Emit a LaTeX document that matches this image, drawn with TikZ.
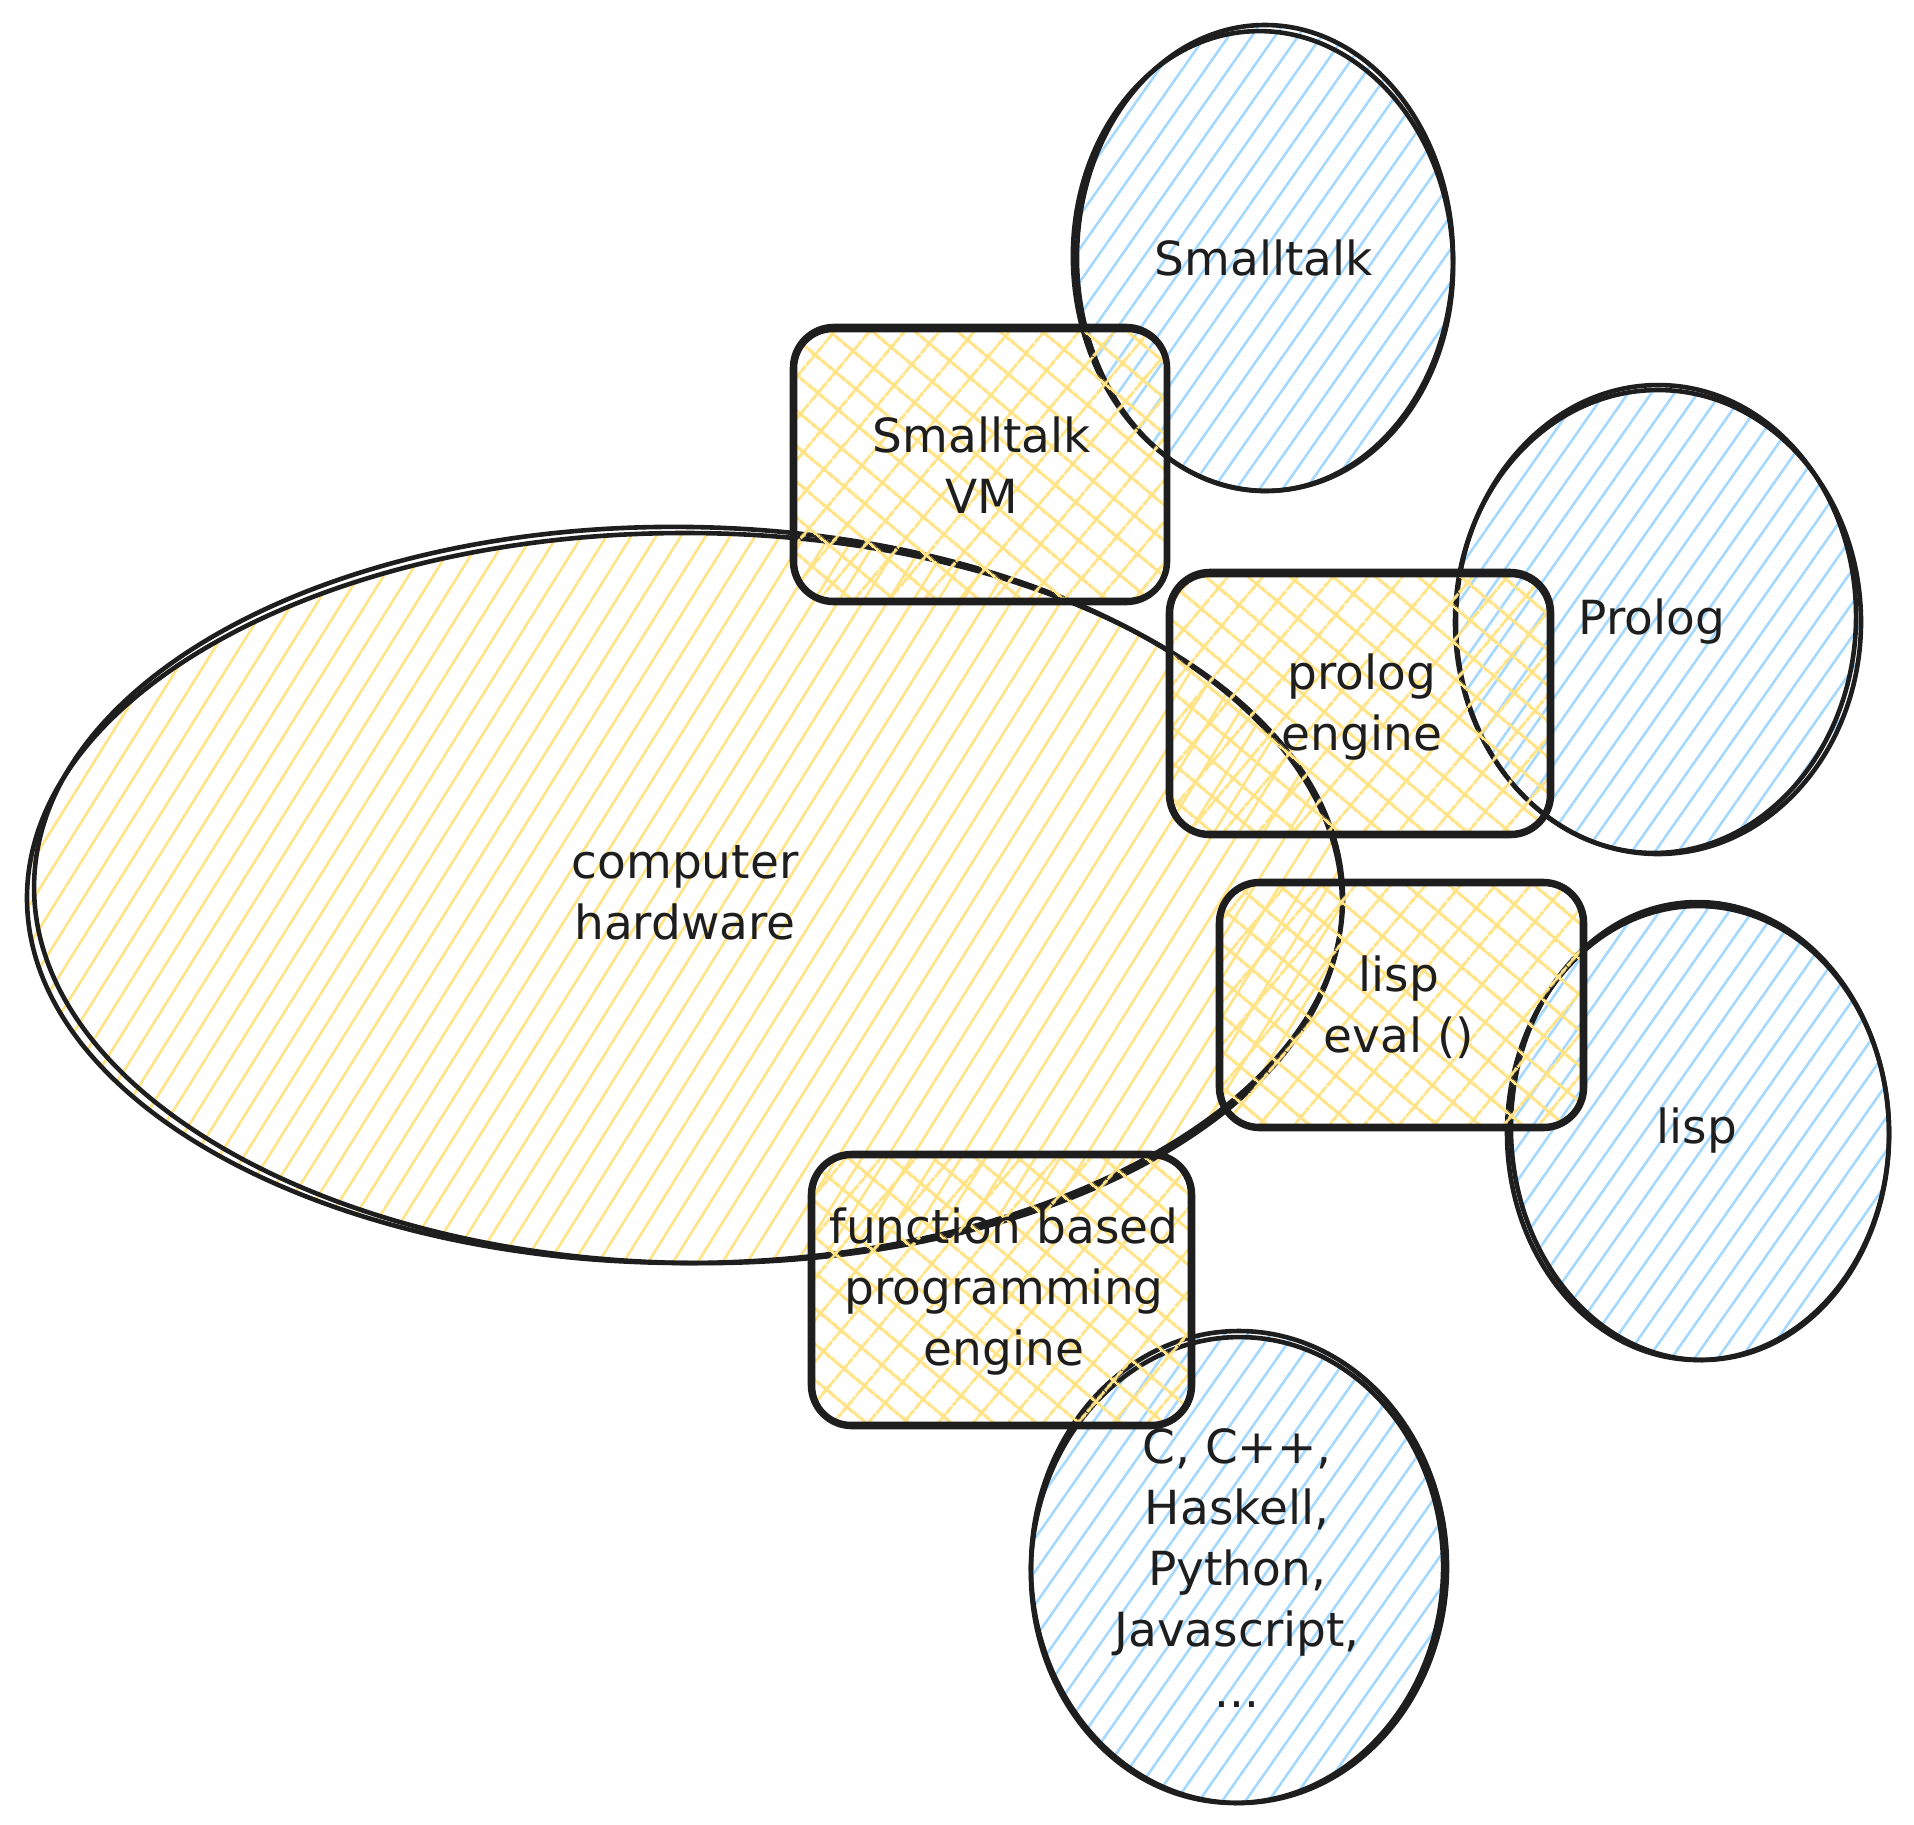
\documentclass[tikz,border=0pt]{standalone}
\usepackage{fontspec}
\setmainfont{DejaVu Sans}
\usetikzlibrary{patterns.meta}
\definecolor{inkdark}{HTML}{1E1E1E}
\definecolor{hwyellow}{HTML}{FFE385}
\definecolor{langblue}{HTML}{A5D8FF}

\begin{document}
\begin{tikzpicture}[x=1pt,y=-1pt,
    sketchline/.style={draw=inkdark, line width=4.6pt, line cap=round, line join=round},
    yellowhatch/.style={pattern={Lines[angle=58,distance=21pt,line width=2.6pt]}, pattern color=hwyellow},
    yellowcross/.style={pattern={Hatch[angle=50,distance=27pt,line width=3.2pt]}, pattern color=hwyellow},
    bluehatch/.style={pattern={Lines[angle=55,distance=19pt,line width=2.6pt]}, pattern color=langblue},
    tagtext/.style={font=\fontsize{47}{61}\selectfont, text=inkdark, align=center}]
    \useasboundingbox (0,0) rectangle (1914,1824);

    % Draw the computer hardware ellipse
    \path[yellowhatch] (685,898) ellipse [x radius=658, y radius=365];
    \draw[sketchline] (685,898) ellipse [x radius=658, y radius=365];
    \draw[sketchline] (688,895) ellipse [x radius=654, y radius=368, rotate=-1];

    % Draw the language circles
    \path[bluehatch] (1265,258) ellipse [x radius=188, y radius=233];
    \draw[sketchline] (1265,258) ellipse [x radius=188, y radius=233];
    \draw[sketchline] (1263,261) ellipse [x radius=190, y radius=230, rotate=3];

    \path[bluehatch] (1658,622) ellipse [x radius=203, y radius=232];
    \draw[sketchline] (1658,622) ellipse [x radius=203, y radius=232];
    \draw[sketchline] (1656,619) ellipse [x radius=200, y radius=234, rotate=-2];

    \path[bluehatch] (1698,1133) ellipse [x radius=191, y radius=227];
    \draw[sketchline] (1698,1133) ellipse [x radius=191, y radius=227];
    \draw[sketchline] (1700,1131) ellipse [x radius=189, y radius=229, rotate=2];

    \path[bluehatch] (1239,1567) ellipse [x radius=208, y radius=236];
    \draw[sketchline] (1239,1567) ellipse [x radius=208, y radius=236];
    \draw[sketchline] (1237,1570) ellipse [x radius=206, y radius=233, rotate=-3];

    % Draw the engine boxes
    \path[yellowcross, rounded corners=42] (792,326) rectangle (1168,603);
    \draw[sketchline, rounded corners=42] (792,326) rectangle (1168,603);
    \draw[sketchline, rounded corners=38] (795,330) rectangle (1166,600);

    \path[yellowcross, rounded corners=42] (1168,571) rectangle (1552,836);
    \draw[sketchline, rounded corners=42] (1168,571) rectangle (1552,836);
    \draw[sketchline, rounded corners=38] (1171,575) rectangle (1549,833);

    \path[yellowcross, rounded corners=42] (1218,881) rectangle (1585,1129);
    \draw[sketchline, rounded corners=42] (1218,881) rectangle (1585,1129);
    \draw[sketchline, rounded corners=38] (1221,884) rectangle (1582,1126);

    \path[yellowcross, rounded corners=42] (810,1153) rectangle (1193,1427);
    \draw[sketchline, rounded corners=42] (810,1153) rectangle (1193,1427);
    \draw[sketchline, rounded corners=38] (813,1156) rectangle (1190,1424);

    % Add the labels
    \node[tagtext] (hwtext) at (685,893) {computer\\hardware};
    \node[tagtext] (vmtext) at (982,465) {Smalltalk\\VM};
    \node[tagtext] (stlang) at (1264,258) {Smalltalk};
    \node[tagtext] (prologeng) at (1362,707) {prolog\\engine};
    \node[tagtext] (prologlang) at (1652,622) {Prolog};
    \node[tagtext] (lispeval) at (1399,1007) {lisp\\eval ()};
    \node[tagtext] (lisplang) at (1697,1131) {lisp};
    \node[tagtext] (funceng) at (1004,1292) {function based\\programming\\engine};
    \node[tagtext] (clangs) at (1237,1568) {C, C++,\\Haskell,\\Python,\\Javascript,\\...};
\end{tikzpicture}
\end{document}
